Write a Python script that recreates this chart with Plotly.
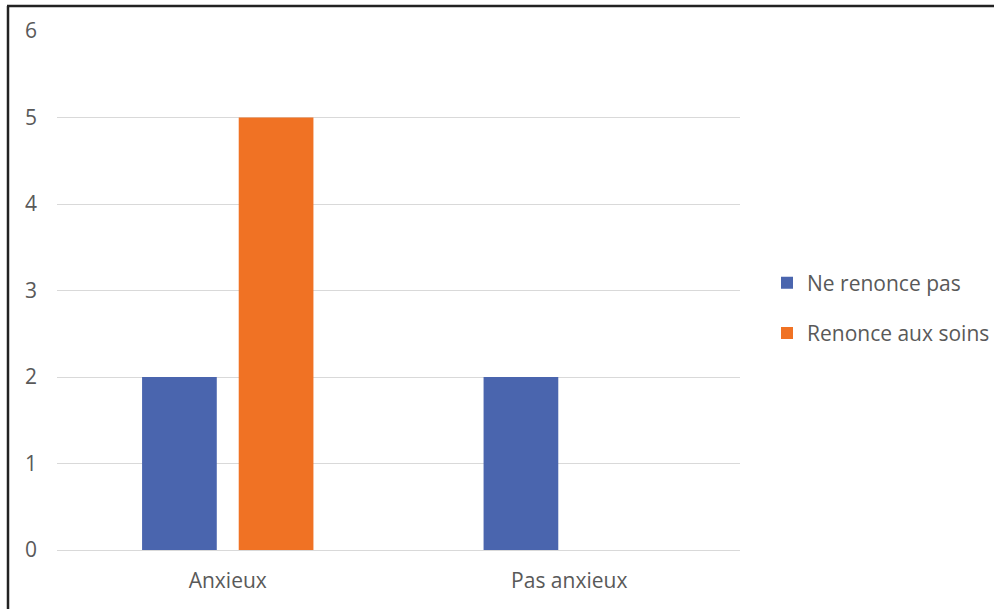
import plotly.graph_objects as go

categories = ["Anxieux", "Pas anxieux"]
ne_renonce_pas = [2, 2]
renonce_aux_soins = [5, 0]
series_names = ["Ne renonce pas", "Renonce aux soins"]

blue = "#4A65AE"
orange = "#F07224"
text_color = "#595959"
font_family = "Open Sans, Liberation Sans, sans-serif"
fs = 21

fig = go.Figure()
fig.add_trace(go.Bar(x=categories, y=ne_renonce_pas, name=series_names[0],
                     marker=dict(color=blue, line=dict(width=0)), legendgroup="a"))
fig.add_trace(go.Bar(x=categories, y=renonce_aux_soins, name=series_names[1],
                     marker=dict(color=orange, line=dict(width=0)), legendgroup="b"))

L, R, T, B = 57, 254, 31, 59
W, H = 994, 609
pw = W - L - R
ph = H - T - B

def px_x(p):
    return (p - L) / pw

def px_y(p):
    return (H - B - p) / ph

fig.update_layout(
    width=W, height=H,
    margin=dict(l=L, r=R, t=T, b=B, autoexpand=False),
    paper_bgcolor="white", plot_bgcolor="white",
    barmode="group", bargap=0.434, bargroupgap=0.227,
    font=dict(family=font_family, size=fs, color=text_color),
    showlegend=True,
    legend=dict(x=px_x(767), y=px_y(308), xanchor="left", yanchor="middle",
                traceorder="grouped", tracegroupgap=20,
                font=dict(size=fs, color=text_color), bgcolor="rgba(0,0,0,0)"),
    xaxis=dict(showgrid=False, showline=False, ticks="", ticklabelstandoff=16,
               tickfont=dict(size=fs, color=text_color)),
    yaxis=dict(range=[0, 6], dtick=1, showgrid=True, gridcolor="#D9D9D9", gridwidth=1,
               zeroline=True, zerolinecolor="#D9D9D9", zerolinewidth=1,
               showline=False, ticks="", ticklabelstandoff=19,
               tickfont=dict(size=fs, color=text_color)),
    shapes=[
        dict(type="line", xref="paper", yref="paper",
             x0=px_x(8), x1=px_x(8), y0=px_y(6), y1=px_y(612),
             line=dict(color="#222222", width=2.5)),
        dict(type="line", xref="paper", yref="paper",
             x0=px_x(7), x1=px_x(996), y0=px_y(6), y1=px_y(6),
             line=dict(color="#222222", width=2.5)),
    ],
)

fig.write_html("out.html")
